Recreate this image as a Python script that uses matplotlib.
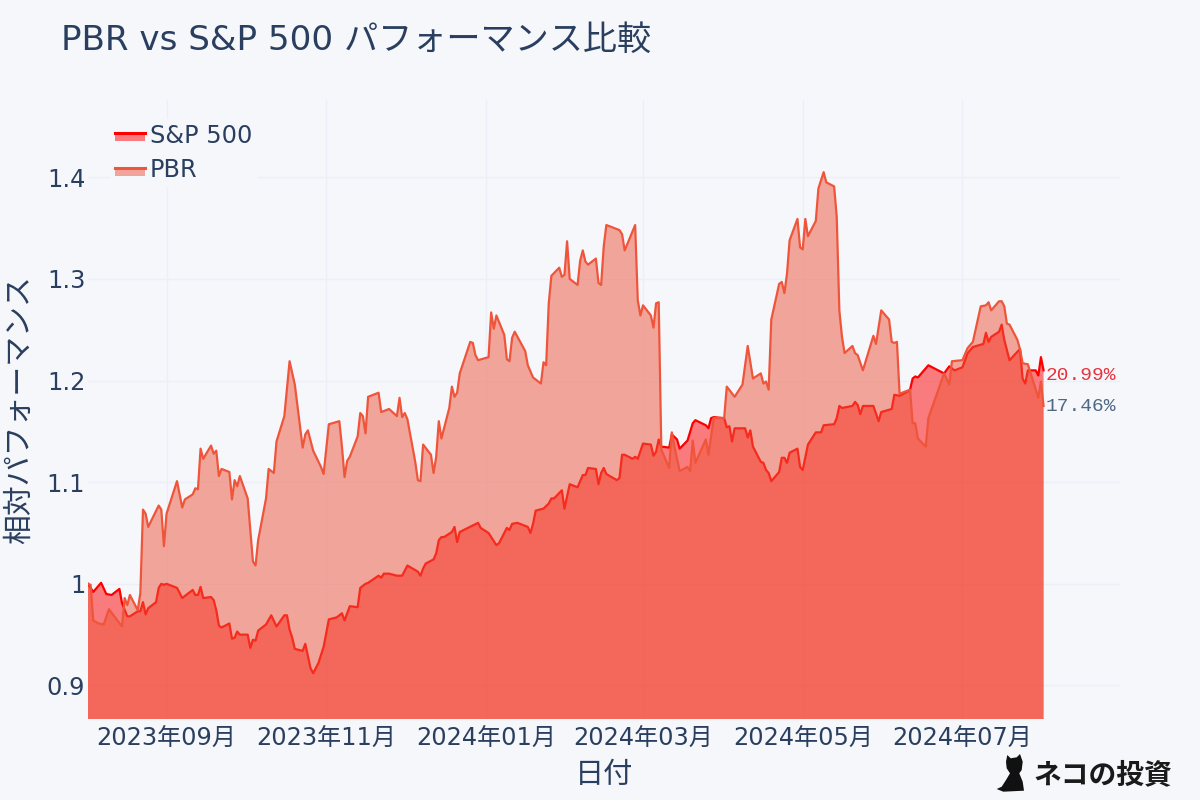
import pandas as pd
import matplotlib.pyplot as plt
import matplotlib.dates as mdates
from matplotlib.legend_handler import HandlerBase
from matplotlib.lines import Line2D
from matplotlib.patches import Polygon, Rectangle
from matplotlib.transforms import IdentityTransform

START = '2023-08-02'

# days since START, relative performance
SPX_DAYS = [0, 2, 5, 7, 9, 12, 13, 15, 16, 19, 20, 21, 22, 23, 26, 27, 28, 29, 30, 34, 36, 40, 41, 42, 43, 44, 47, 48, 49, 50, 51,
            54, 55, 56, 57, 58, 61, 62, 63, 64, 65, 68, 70, 72, 75, 76, 77, 78, 79, 82, 83, 85, 86, 88, 90, 92, 95, 97, 98, 100,
            103, 104, 106, 107, 111, 112, 113, 115, 118, 120, 122, 126, 127, 128, 129, 132, 133, 134, 135, 136, 139, 140, 141, 142,
            149, 150, 153, 155, 156, 157, 160, 161, 162, 164, 168, 169, 170, 171, 174, 176, 177, 178, 181, 182, 184, 187, 189, 190,
            191, 194, 195, 196, 197, 198, 202, 203, 204, 205, 208, 209, 210, 212, 215, 216, 217, 218, 219, 222, 223, 225, 226, 229,
            231, 232, 236, 237, 238, 239, 243, 244, 245, 246, 247, 251, 252, 253, 254, 257, 258, 259, 260, 261, 264, 265, 266, 267,
            268, 271, 272, 273, 275, 278, 280, 281, 285, 286, 287, 288, 292, 293, 294, 295, 296, 300, 302, 303, 307, 308, 310, 313,
            314, 315, 316, 317, 321, 327, 329, 331, 334, 336, 338, 342, 343, 344, 345, 348, 349, 350, 352, 356, 357, 358, 359, 362,
            363, 364, 365]
SPX_VALUES = [1.0, .992, 1.001, .990, .989, .995, .981, .968, .968, .973, .973, .982, .970, .976, .982, .996, 1.0, .999, 1.0, .996, .986, .994, .989, .989, .997, .986, .987, .984, .974, .959, .957,
              .961, .946, .947, .953, .950, .950, .937, .945, .944, .954, .960, .969, .958, .969, .969, .955, .947, .936, .934, .941, .917, .912, .922, .938, .965, .967, .971, .964, .978,
              .977, .996, 1.0, 1.001, 1.008, 1.006, 1.010, 1.010, 1.008, 1.008, 1.018, 1.012, 1.008, 1.015, 1.020, 1.024, 1.030, 1.043, 1.046, 1.046, 1.051, 1.056, 1.041, 1.051,
              1.060, 1.055, 1.050, 1.042, 1.038, 1.040, 1.055, 1.053, 1.059, 1.060, 1.056, 1.050, 1.059, 1.072, 1.074, 1.079, 1.084, 1.084, 1.092, 1.074, 1.098, 1.095, 1.107, 1.107,
              1.114, 1.113, 1.098, 1.109, 1.114, 1.108, 1.102, 1.104, 1.127, 1.127, 1.123, 1.125, 1.123, 1.138, 1.137, 1.126, 1.130, 1.142, 1.135, 1.134, 1.147, 1.142, 1.133, 1.141,
              1.158, 1.161, 1.156, 1.153, 1.163, 1.164, 1.163, 1.154, 1.155, 1.140, 1.153, 1.153, 1.144, 1.151, 1.135, 1.120, 1.119, 1.112, 1.109, 1.101, 1.110, 1.124, 1.124, 1.119,
              1.129, 1.133, 1.115, 1.112, 1.137, 1.149, 1.149, 1.156, 1.157, 1.163, 1.175, 1.173, 1.175, 1.179, 1.176, 1.167, 1.175, 1.175, 1.160, 1.169, 1.172, 1.186, 1.185, 1.189,
              1.191, 1.202, 1.204, 1.203, 1.215, 1.207, 1.214, 1.210, 1.213, 1.227, 1.233, 1.236, 1.247, 1.238, 1.243, 1.248, 1.255, 1.240, 1.220, 1.231, 1.202, 1.197, 1.210, 1.210,
              1.205, 1.223, 1.210]

PBR_DAYS = [0, 1, 2, 4, 6, 8, 13, 14, 15, 16, 19, 20, 21, 22, 23, 27, 28, 29, 30, 34, 36, 37, 40, 41, 42, 43, 44, 47, 48, 49, 50, 51,
            54, 55, 56, 57, 58, 61, 63, 64, 65, 68, 69, 71, 72, 75, 77, 79, 82, 83, 84, 86, 89, 90, 92, 96, 97, 98, 99, 100,
            103, 104, 105, 106, 107, 111, 112, 115, 118, 119, 120, 121, 122, 125, 126, 127, 128, 131, 132, 133, 134, 135, 138, 139, 140, 141, 142,
            146, 147, 148, 149, 153, 154, 155, 156, 159, 160, 161, 162, 163, 167, 168, 170, 173, 174, 175, 176, 177, 180, 181, 182, 183, 184,
            187, 188, 189, 190, 191, 194, 195, 196, 197, 198, 203, 204, 205, 209, 210, 211, 212, 215, 216, 217, 218, 219, 222, 223, 224, 226, 229, 230, 231, 232,
            236, 237, 239, 243, 244, 247, 250, 252, 254, 257, 258, 259, 260, 261, 264, 265, 266, 267, 268, 271, 272, 273, 274, 275, 278, 279, 281, 282,
            285, 286, 287, 288, 289, 292, 293, 294, 296, 300, 301, 303, 306, 307, 308, 309, 310, 314, 315, 316, 317, 320, 321, 327, 329, 330, 334, 336, 338,
            341, 343, 344, 345, 348, 349, 350, 351, 352, 355, 356, 357, 359, 363, 364, 365]
PBR_VALUES = [1.0, .999, .964, .961, .960, .975, .958, .986, .979, .989, .974, .991, 1.073, 1.069, 1.056, 1.077, 1.073, 1.037, 1.069, 1.101, 1.075, 1.083, 1.088, 1.094, 1.093, 1.133, 1.123, 1.136, 1.128, 1.131, 1.106, 1.113,
              1.110, 1.083, 1.102, 1.096, 1.106, 1.084, 1.022, 1.018, 1.043, 1.084, 1.113, 1.109, 1.140, 1.165, 1.219, 1.196, 1.134, 1.147, 1.151, 1.131, 1.115, 1.108, 1.157, 1.160, 1.135, 1.105, 1.121, 1.125,
              1.145, 1.168, 1.165, 1.148, 1.184, 1.188, 1.169, 1.172, 1.165, 1.183, 1.164, 1.168, 1.162, 1.120, 1.102, 1.101, 1.137, 1.127, 1.109, 1.125, 1.160, 1.143, 1.173, 1.194, 1.184, 1.188, 1.207,
              1.238, 1.237, 1.225, 1.220, 1.223, 1.267, 1.251, 1.264, 1.245, 1.221, 1.219, 1.242, 1.248, 1.229, 1.215, 1.203, 1.197, 1.218, 1.215, 1.276, 1.303, 1.311, 1.302, 1.304, 1.337, 1.300,
              1.294, 1.318, 1.328, 1.317, 1.314, 1.320, 1.296, 1.294, 1.332, 1.353, 1.348, 1.344, 1.328, 1.353, 1.279, 1.264, 1.274, 1.264, 1.252, 1.276, 1.277, 1.132, 1.114, 1.149, 1.135, 1.111, 1.115, 1.111, 1.141, 1.119,
              1.142, 1.127, 1.163, 1.163, 1.194, 1.184, 1.196, 1.234, 1.202, 1.207, 1.197, 1.199, 1.191, 1.260, 1.295, 1.297, 1.286, 1.305, 1.338, 1.359, 1.331, 1.329, 1.359, 1.342, 1.357, 1.389, 1.405, 1.395,
              1.391, 1.361, 1.269, 1.243, 1.227, 1.234, 1.227, 1.225, 1.210, 1.244, 1.236, 1.269, 1.260, 1.238, 1.237, 1.238, 1.187, 1.191, 1.158, 1.158, 1.143, 1.135, 1.163, 1.207, 1.196, 1.219, 1.220, 1.232, 1.238,
              1.273, 1.274, 1.277, 1.269, 1.278, 1.278, 1.273, 1.256, 1.255, 1.240, 1.231, 1.217, 1.216, 1.183, 1.199, 1.175]

YTICKS = [0.9, 1.0, 1.1, 1.2, 1.3, 1.4]
YTICK_LABELS = ['0.9', '1', '1.1', '1.2', '1.3', '1.4']
SPX_LABEL = '20.99%'
PBR_LABEL = '17.46%'

BG = '#f5f7fb'
GRID = '#ebf0f8'
INK = '#2a3f5f'
SPX_COLOR = '#ff0000'
PBR_COLOR = '#EF553B'

plt.rcParams['font.family'] = ['DejaVu Sans', 'Noto Sans CJK JP']


class AreaHandler(HandlerBase):
    # plotly style legend key: line with a strip of the fill under it
    def create_artists(self, legend, orig, xd, yd, w, h, fs, trans):
        mid = h / 2 - yd + 1
        fill = Rectangle((-xd, mid - 6), w, 6, facecolor=orig.get_color(), alpha=0.5, edgecolor='none', transform=trans)
        line = Line2D([-xd, w - xd], [mid, mid], color=orig.get_color(), lw=2.2, transform=trans)
        return [fill, line]


def to_dates(days):
    return pd.Timestamp(START) + pd.to_timedelta(days, unit='D')


fig = plt.figure(figsize=(12, 8), dpi=100, facecolor=BG)
ax = fig.add_axes([88 / 1200, 81 / 800, 1032 / 1200, 619 / 800], facecolor=BG)

spx_x = to_dates(SPX_DAYS)
pbr_x = to_dates(PBR_DAYS)

# PBR goes over S&P 500, fill and line of each in that order
ax.fill_between(spx_x, SPX_VALUES, 0, color=SPX_COLOR, alpha=0.5, lw=0, zorder=2)
ax.plot(spx_x, SPX_VALUES, color=SPX_COLOR, lw=1.6, label='S&P 500', zorder=3)
ax.fill_between(pbr_x, PBR_VALUES, 0, color=PBR_COLOR, alpha=0.5, lw=0, zorder=4)
ax.plot(pbr_x, PBR_VALUES, color=PBR_COLOR, lw=1.6, label='PBR', zorder=5)

ax.set_xlim(pd.Timestamp(START), pd.Timestamp(START) + pd.Timedelta(days=394.2))
ax.set_ylim(0.867, 1.476)
ax.set_yticks(YTICKS)
ax.set_yticklabels(YTICK_LABELS)
ax.xaxis.set_major_locator(mdates.MonthLocator(bymonth=[1, 3, 5, 7, 9, 11]))
ax.xaxis.set_major_formatter(mdates.DateFormatter('%Y年%m月'))
ax.tick_params(length=0, labelsize=17.3, labelcolor=INK)
ax.tick_params(axis='x', pad=5)
ax.tick_params(axis='y', pad=2)
ax.grid(True, color=GRID, lw=1)
ax.set_axisbelow(True)
for side in ax.spines.values():
    side.set_visible(False)

fig.text(61 / 1200, 1 - 40 / 800, 'PBR vs S&P 500 パフォーマンス比較', fontsize=24.6, color=INK, va='center')
fig.text(19 / 1200, 1 - 410 / 800, '相対パフォーマンス', fontsize=21.5, color=INK, rotation=90, va='center', ha='center')
fig.text(604 / 1200, 1 - 775 / 800, '日付', fontsize=21, color=INK, va='center', ha='center')

last = pbr_x[-1]
ax.text(last + pd.Timedelta(days=0.8), 1.205, SPX_LABEL, family='Liberation Mono', fontsize=14, color='#e8323c', va='center', zorder=6)
ax.text(last + pd.Timedelta(days=0.8), 1.174, PBR_LABEL, family='Liberation Mono', fontsize=14, color='#506784', va='center', zorder=6)

leg = ax.legend(loc='upper left', bbox_to_anchor=(22 / 1032, 1 - 19 / 619), borderaxespad=0, fontsize=17.3,
                frameon=True, framealpha=1, facecolor=BG, edgecolor='none', fancybox=False,
                handlelength=1.25, handletextpad=0.2, labelspacing=0.44, borderpad=0.2,
                labelcolor=INK, handler_map={Line2D: AreaHandler()})
leg.set_zorder(7)

# watermark
cat = [(1007.3, 755), (1010.7, 758.3), (1016.7, 757.3), (1020, 754), (1022.7, 761.7), (1021.7, 770), (1019.3, 773.3),
       (1022.7, 781.7), (1024, 790.7), (1003.3, 791.7), (996.7, 789), (1001.7, 786.7), (1006, 780), (1010, 773.3),
       (1006.7, 768.3), (1006, 761.7)]
fig.add_artist(Polygon([(x, 800 - y) for x, y in cat], closed=True, color='#111111', lw=0, transform=IdentityTransform()))
fig.text(1103 / 1200, 1 - 775 / 800, 'ネコの投資', fontsize=20, fontweight='bold', color='#1a1a1a', va='center', ha='center')

fig.savefig('out.png', dpi=100, facecolor=BG)
